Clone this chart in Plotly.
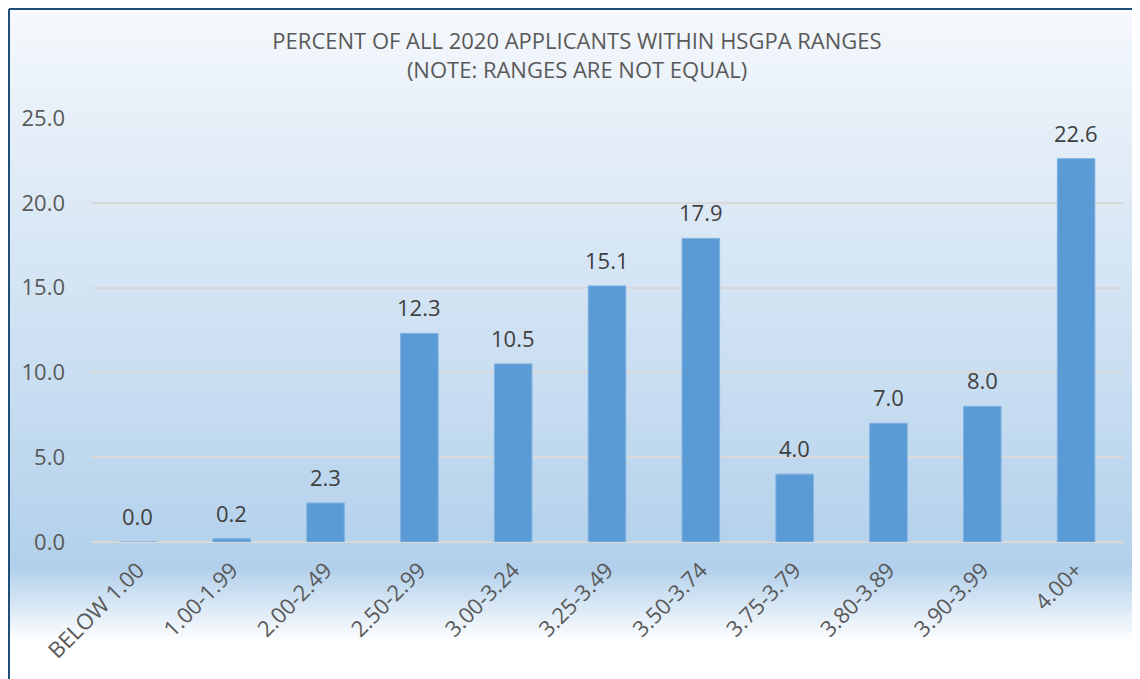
import base64
import plotly.graph_objects as go

categories = ["BELOW 1.00", "1.00-1.99", "2.00-2.49", "2.50-2.99", "3.00-3.24", "3.25-3.49",
              "3.50-3.74", "3.75-3.79", "3.80-3.89", "3.90-3.99", "4.00+"]
percents = [0.0, 0.2, 2.3, 12.3, 10.5, 15.1, 17.9, 4.0, 7.0, 8.0, 22.6]
y_ticks = [0, 5, 10, 15, 20, 25]

# page is offset by 8px body margin; figure occupies page (8..1140, 8..679)
W, H = 1132, 671
ML, MR, MT, MB = 83, 17, 110, 137
PW, PH = W - ML - MR, H - MT - MB

svg = f'''<svg xmlns="http://www.w3.org/2000/svg" width="{W}" height="{H}" preserveAspectRatio="none">
<defs><linearGradient id="g" x1="0" y1="0" x2="0" y2="1">
<stop offset="0" stop-color="#F6F9FD"/>
<stop offset="0.17" stop-color="#E6EFF8"/>
<stop offset="0.55" stop-color="#C9DEF1"/>
<stop offset="0.835" stop-color="#B2D0EB"/>
<stop offset="0.945" stop-color="#FFFFFF"/>
<stop offset="1" stop-color="#FFFFFF"/>
</linearGradient></defs>
<rect x="0" y="0" width="{W}" height="{H}" fill="url(#g)"/></svg>'''
bg_uri = "data:image/svg+xml;base64," + base64.b64encode(svg.encode()).decode()

fig = go.Figure()
fig.add_trace(go.Bar(
    x=categories, y=percents,
    marker=dict(color="#5B9BD5", line=dict(color="#7DB1E1", width=1)),
    hoverinfo="x+y",
))

for c, v in zip(categories, percents):
    fig.add_annotation(x=c, y=v, text=f"{v:.1f}", showarrow=False, yanchor="bottom",
                       yshift=9, font=dict(family="Open Sans", size=22, color="#404040"))

fig.update_layout(
    width=W, height=H,
    margin=dict(l=ML, r=MR, t=MT, b=MB, autoexpand=False),
    paper_bgcolor="rgba(0,0,0,0)", plot_bgcolor="rgba(0,0,0,0)",
    bargap=0.6, showlegend=False,
    font=dict(family="Open Sans", color="#595959"),
    title=dict(text="PERCENT OF ALL 2020 APPLICANTS WITHIN HSGPA RANGES<br>(NOTE: RANGES ARE NOT EQUAL)",
               x=569 / W, xanchor="center", y=1 - 41 / H, yanchor="top",
               font=dict(family="Open Sans", size=22, color="#595959")),
    xaxis=dict(tickangle=-45, tickfont=dict(size=22, color="#595959"), showgrid=False,
               showline=False, ticks="", ticklen=0, ticklabelstandoff=10, automargin=False),
    yaxis=dict(range=[0, 25], tickvals=y_ticks, ticktext=[f"{v:.1f}" for v in y_ticks],
               tickfont=dict(size=22, color="#595959"), gridcolor="#D9D9D9", gridwidth=1.5,
               zeroline=True, zerolinecolor="#D9D9D9", zerolinewidth=2, showline=False,
               ticklabelstandoff=25, automargin=False),
    images=[dict(source=bg_uri, xref="paper", yref="paper",
                 x=-ML / PW, y=1 + MT / PH, sizex=W / PW, sizey=H / PH,
                 xanchor="left", yanchor="top", sizing="stretch", layer="below")],
    shapes=[
        dict(type="line", xref="paper", yref="paper", x0=-(ML - 1) / PW, x1=(W - ML) / PW,
             y0=1 + (MT - 1) / PH, y1=1 + (MT - 1) / PH, line=dict(color="#1F4E79", width=2)),
        dict(type="line", xref="paper", yref="paper", x0=-(ML - 1) / PW, x1=-(ML - 1) / PW,
             y0=1 + (MT - 1) / PH, y1=-MB / PH, line=dict(color="#1F4E79", width=2)),
    ],
)

fig.write_html("out.html")
